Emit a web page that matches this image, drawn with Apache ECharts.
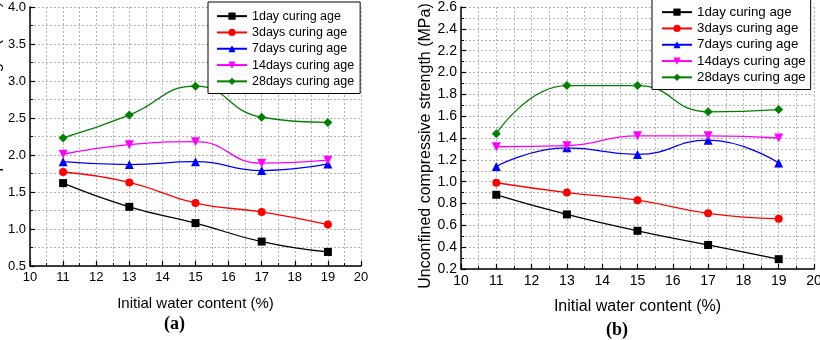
<!DOCTYPE html>
<html lang="en">
<head>
    <meta charset="UTF-8">
    <title>UCS vs initial water content</title>
    <script src="https://cdn.jsdelivr.net/npm/echarts@6/dist/echarts.min.js"></script>
    <style>
        html, body { margin: 0; padding: 0; background: #fff; }
        #main { width: 820px; height: 340px; }
    </style>
</head>
<body>
<div id="main"></div>
<script>
    // water content (%) on the x axis
    var water = [11, 13, 15, 17, 19];
    var ages = ['1day curing age', '3days curing age', '7days curing age', '14days curing age', '28days curing age'];

    // panel (a)
    var a1 = [1.62, 1.30, 1.08, 0.83, 0.69];
    var a3 = [1.77, 1.63, 1.35, 1.23, 1.06];
    var a7 = [1.91, 1.87, 1.91, 1.79, 1.88];
    var a14 = [2.01, 2.14, 2.18, 1.89, 1.93];
    var a28 = [2.23, 2.54, 2.93, 2.51, 2.44];

    // panel (b)
    var b1 = [0.88, 0.70, 0.55, 0.42, 0.29];
    var b3 = [0.99, 0.90, 0.83, 0.71, 0.66];
    var b7 = [1.14, 1.31, 1.25, 1.38, 1.17];
    var b14 = [1.32, 1.33, 1.42, 1.42, 1.40];
    var b28 = [1.44, 1.88, 1.88, 1.64, 1.66];

    var colors = ['#000000', '#ff0000', '#0000ff', '#ff00ff', '#008000'];
    var symbols = ['rect', 'circle', 'triangle', 'triangle', 'diamond'];
    var rotates = [0, 0, 0, 180, 0];
    var sizes = [8, 8, 9, 9, 9];

    var font = 'Liberation Sans, Arial, sans-serif';

    function pairs(vals) {
        var out = [];
        for (var i = 0; i < water.length; i++) out.push([water[i], vals[i]]);
        return out;
    }

    function makeSeries(sets, idx) {
        return sets.map(function (vals, k) {
            return {
                name: ages[k],
                type: 'line',
                xAxisIndex: idx,
                yAxisIndex: idx,
                data: pairs(vals),
                smooth: 0.5,
                symbol: symbols[k],
                symbolSize: sizes[k],
                symbolRotate: rotates[k],
                showAllSymbol: true,
                itemStyle: { color: colors[k] },
                lineStyle: { color: colors[k], width: 1.3 },
                emphasis: { disabled: true },
                animation: false
            };
        });
    }

    function xAxis(idx, fs, nameSize, gap) {
        return {
            type: 'value', gridIndex: idx,
            min: 10, max: 20, interval: 1,
            name: 'Initial water content (%)',
            nameLocation: 'middle', nameGap: gap,
            nameTextStyle: { color: '#000', fontFamily: font, fontSize: nameSize },
            axisLine: { lineStyle: { color: '#000', width: 1.5 } },
            axisTick: { inside: true, length: 5, lineStyle: { color: '#000', width: 1.2 } },
            minorTick: { show: true, splitNumber: 2, length: 3, lineStyle: { color: '#000' } },
            axisLabel: { color: '#000', fontFamily: font, fontSize: fs, margin: 5 },
            splitLine: { show: true, lineStyle: { color: '#b4b4b4', type: [2, 2] } },
            minorSplitLine: { show: true, lineStyle: { color: '#b4b4b4', type: [2, 2] } }
        };
    }

    function yAxis(idx, min, max, step, fs, gap) {
        return {
            type: 'value', gridIndex: idx,
            min: min, max: max, interval: step,
            name: 'Unconfined compressive strength (MPa)',
            nameLocation: 'middle', nameGap: gap,
            // extra right padding pushes the rotated title a little downwards
            nameTextStyle: { color: '#000', fontFamily: font, fontSize: 16, padding: [0, 16, 0, 0] },
            axisLine: { show: true, lineStyle: { color: '#000', width: 1.5 } },
            axisTick: { show: true, inside: true, length: 5, lineStyle: { color: '#000', width: 1.2 } },
            minorTick: { show: true, splitNumber: 2, length: 3, lineStyle: { color: '#000' } },
            axisLabel: {
                color: '#000', fontFamily: font, fontSize: fs, margin: 4,
                formatter: function (v) { return v.toFixed(1); }
            },
            splitLine: { show: true, lineStyle: { color: '#b4b4b4', type: [2, 2] } },
            minorSplitLine: { show: true, lineStyle: { color: '#b4b4b4', type: [2, 2] } }
        };
    }

    function legend(left, top, fs, pad) {
        return {
            orient: 'vertical',
            left: left, top: top,
            padding: pad,
            itemGap: 2,
            itemWidth: 30, itemHeight: 9,
            backgroundColor: '#fff',
            borderColor: '#000', borderWidth: 1, borderRadius: 0,
            selectedMode: false,
            textStyle: { color: '#000', fontFamily: font, fontSize: fs, lineHeight: 14.3 },
            data: ages
        };
    }

    var myChart = echarts.init(document.getElementById('main'));
    var option = {
        backgroundColor: '#fff',
        animation: false,
        grid: [
            { left: 30, right: 459, top: 7, bottom: 74, outerBoundsMode: 'none', containLabel: false },
            { left: 461, right: 6, top: 7, bottom: 71, outerBoundsMode: 'none', containLabel: false }
        ],
        xAxis: [xAxis(0, 13, 15, 30), xAxis(1, 14, 16, 30)],
        yAxis: [yAxis(0, 0.5, 4.0, 0.5, 13, 26), yAxis(1, 0.2, 2.6, 0.2, 14, 26)],
        legend: [legend(208, 2, 12.5, [7, 6, 5, 8]), legend(652, -1, 13.3, [6, 5, 5, 9])],
        graphic: [
            { type: 'text', left: 164, top: 315, style: { text: '(a)', font: 'bold 18px "Liberation Serif", serif', fill: '#000' } },
            { type: 'text', left: 606, top: 321, style: { text: '(b)', font: 'bold 18px "Liberation Serif", serif', fill: '#000' } }
        ],
        series: makeSeries([a1, a3, a7, a14, a28], 0).concat(makeSeries([b1, b3, b7, b14, b28], 1))
    };
    myChart.setOption(option);
</script>
</body>
</html>
